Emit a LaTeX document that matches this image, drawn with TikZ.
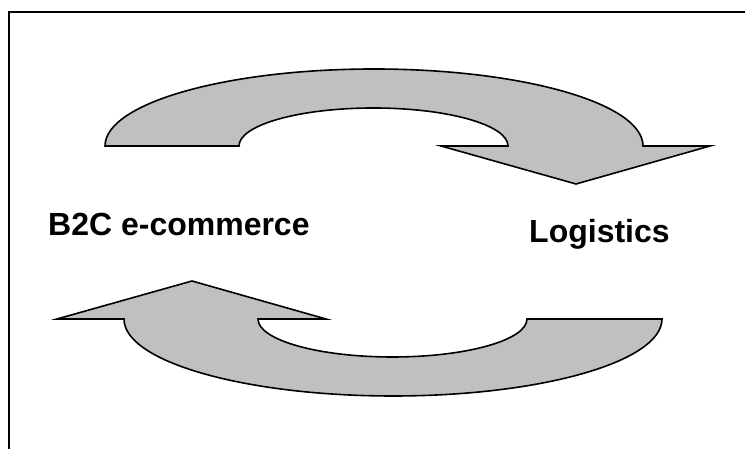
\documentclass[tikz,border=0pt]{standalone}
\usepackage{fontspec}
\setmainfont{Liberation Sans}
\begin{document}
\begin{tikzpicture}[x=1pt,y=1pt,
  cyclearrow/.style={fill={rgb,255:red,192;green,192;blue,192},draw=black,line width=1.6pt,line join=miter},
  label/.style={anchor=base west,inner sep=0pt,font=\fontsize{32}{37}\selectfont\bfseries}]
\useasboundingbox (0,0) rectangle (745,449);
% frame (top and left edges visible)
\draw[line width=2.2pt] (9,0) -- (9,437) -- (746,437);
% top curved arrow (pointing down to the right)
\draw[cyclearrow] (105,303) arc[start angle=180,end angle=0,x radius=269,y radius=77]
  -- (710,303) -- (576,265) -- (441,303) -- (508,303)
  arc[start angle=0,end angle=180,x radius=134.5,y radius=38] -- cycle;
% bottom curved arrow (pointing up to the left)
\draw[cyclearrow] (662,130) arc[start angle=0,end angle=-180,x radius=269,y radius=77]
  -- (57,130) -- (192,168) -- (326,130) -- (258,130)
  arc[start angle=180,end angle=360,x radius=134.5,y radius=38] -- cycle;
\node[label] (b2c) at (48,213) {B2C e-commerce};
\node[label] (log) at (529,206) {Logistics};
\end{tikzpicture}
\end{document}
